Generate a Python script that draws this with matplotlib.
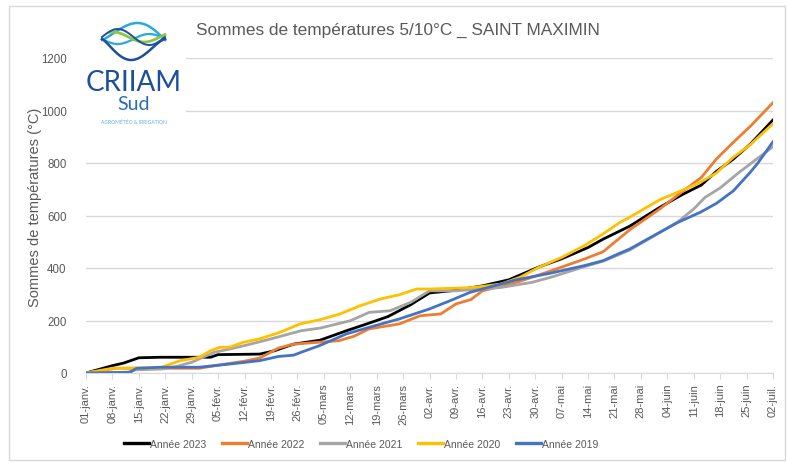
import numpy as np
import matplotlib
matplotlib.use("Agg")
import matplotlib.pyplot as plt
from matplotlib.patches import Rectangle

# day offsets from 01-janv
days_2023 = [0, 3, 7, 10, 14, 20, 33, 35, 46, 50, 55, 62, 69, 75, 80, 86, 91, 98, 105, 112, 120, 126, 133, 137, 144, 152, 158, 163, 167, 171.5, 176, 182]
vals_2023 = [0, 12, 28, 38, 58, 60, 60, 70, 72, 85, 110, 125, 161, 190, 215, 260, 305, 315, 332, 355, 404, 435, 478, 510, 559, 631, 680, 716, 768, 815, 872, 964]

days_2022 = [0, 8, 30, 35, 42, 46, 51, 55, 67, 71, 75, 83, 88.5, 94, 98, 102, 105, 114, 123, 132, 137, 144, 152, 157, 163, 167, 171.5, 176, 182]
vals_2022 = [0, 18, 18, 30, 45, 57, 95, 110, 123, 140, 168, 187, 218, 225, 263, 280, 313, 345, 388, 434, 462, 545, 625, 680, 745, 815, 879, 940, 1030]

days_2021 = [0, 11, 13, 20, 24, 28, 34, 38, 43, 49, 57, 62, 70, 75, 80.5, 86, 91, 98, 110, 118, 123, 132, 137, 144, 152, 157, 161, 164, 168, 173, 182]
vals_2021 = [0, 2, 12, 15, 25, 41, 79, 91, 108, 130, 161, 171, 199, 231, 237, 269, 313, 313, 326, 345, 364, 405, 426, 468, 535, 578, 625, 669, 705, 764, 862]

days_2020 = [0, 7, 19.6, 25, 30, 33, 35.5, 38, 41.7, 46, 51.4, 56.7, 62, 67.3, 72.6, 78, 83, 87.6, 91, 101.7, 105, 110, 115, 120, 126, 132, 137, 141.5, 144, 147, 152, 157, 162.7, 167, 171.5, 176, 182]
vals_2020 = [0, 18, 20, 47, 60, 85, 98, 98, 117, 130, 155, 187, 203, 225, 256, 282, 298, 320, 320, 325, 330, 339, 365, 403, 440, 485, 530, 574, 593, 618, 660, 690, 726, 762, 822, 870, 950]

days_2019 = [0, 11.7, 13.4, 20, 30, 38, 46, 51, 55, 57, 62, 69, 75, 83, 91, 96.4, 101.7, 105, 114, 123, 132, 137, 141.5, 144, 152, 157, 162.7, 167, 171.5, 176, 178, 182]
vals_2019 = [0, 3, 18, 22, 22, 34, 47, 63, 68, 79, 105, 149, 174, 206, 244, 275, 307, 320, 355, 380, 409, 428, 457, 472, 536, 575, 612, 646, 694, 765, 800, 881]

tick_days = list(range(0, 183, 7))
tick_labels = ["01-janv.", "08-janv.", "15-janv.", "22-janv.", "29-janv.", "05-févr.", "12-févr.",
               "19-févr.", "26-févr.", "05-mars", "12-mars", "19-mars", "26-mars", "02-avr.",
               "09-avr.", "16-avr.", "23-avr.", "30-avr.", "07-mai", "14-mai", "21-mai", "28-mai",
               "04-juin", "11-juin", "18-juin", "25-juin", "02-juil."]

series = [
    ("Année 2023", days_2023, vals_2023, "#000000"),
    ("Année 2022", days_2022, vals_2022, "#ED7D31"),
    ("Année 2021", days_2021, vals_2021, "#A5A5A5"),
    ("Année 2020", days_2020, vals_2020, "#FFC000"),
    ("Année 2019", days_2019, vals_2019, "#4472C4"),
]

plt.rcParams["font.family"] = ["Liberation Sans", "DejaVu Sans"]
GREY = "#595959"
GRID = "#d9d9d9"
W, H = 787, 464

fig = plt.figure(figsize=(W / 100, H / 100), dpi=100)
ax = fig.add_axes([86 / W, 1 - 374 / H, (773 - 86) / W, (374 - 59) / H])

for lbl, d, v, col in series:
    ax.plot(d, v, color=col, lw=2.0, label=lbl, solid_joinstyle="round")

ax.set_xlim(0, 182)
ax.set_ylim(0, 1200)
ax.set_yticks(range(0, 1201, 200))
ax.set_xticks(tick_days)
ax.set_xticklabels(tick_labels, rotation=90)
ax.grid(axis="y", color=GRID, lw=1)
ax.set_axisbelow(True)
for s in ("top", "right", "left"):
    ax.spines[s].set_visible(False)
ax.spines["bottom"].set_color(GRID)
ax.tick_params(axis="y", length=0, pad=14, labelsize=8.3, labelcolor=GREY)
ax.tick_params(axis="x", length=4, color=GRID, pad=3, labelsize=8, labelcolor=GREY)
ax.set_ylabel("Sommes de températures (°C)", fontsize=10.5, color=GREY)
ax.yaxis.set_label_coords(-0.064, 0.53)

fig.text(398 / W, 1 - 30 / H, "Sommes de températures 5/10°C _ SAINT MAXIMIN",
         ha="center", va="center", fontsize=12.4, color=GREY)

leg = fig.legend(loc="center", bbox_to_anchor=(361 / W, 1 - 445 / H), ncol=5, frameon=False,
                 fontsize=7.5, handlelength=2.4, handletextpad=0.1, columnspacing=1.5,
                 labelcolor=GREY)
for h in leg.get_lines():
    h.set_linewidth(2.4)

# overlay in pixel coords for logo + border
ov = fig.add_axes([0, 0, 1, 1], zorder=10)
ov.set_xlim(0, W)
ov.set_ylim(H, 0)
ov.axis("off")
ov.add_patch(Rectangle((9, 7), 776, 454, fill=False, ec=GRID, lw=1))
ov.add_patch(Rectangle((82, 18), 104, 112, fc="white", ec="none"))

# logo waves
t = np.linspace(0, 1, 100)
lx = 102 + 63 * t
ov.plot(lx, 41 - 17 * np.sin(np.pi * t ** 1.2) , color="#29a9e0", lw=1.8)
ov.plot(lx, 40 + 5 * np.sin(2 * np.pi * t), color="#29a9e0", lw=1.6)
ov.plot(lx[12:], 38 - 5 * np.sin(2 * np.pi * t[12:] + 0.5), color="#8dc63f", lw=2)
ov.plot(lx, 40 + 21 * np.sin(np.pi * t ** 0.9) ** 1.4, color="#1d4f9c", lw=1.8)
ov.plot(lx, 38 - 8 * np.sin(2 * np.pi * t), color="#1d4f9c", lw=1.4)

ov.text(134, 83, "CRIIAM", ha="center", va="center", fontsize=20, color="#1d4f9c", family="Lato")
ov.text(134, 104, "Sud", ha="center", va="center", fontsize=14, color="#2b6cb5", family="Lato")
ov.text(134, 122, "AGROMÉTÉO & IRRIGATION", ha="center", va="center", fontsize=3.6,
        color="#5bb0e0", family="Lato")

fig.savefig("out.png", dpi=100)
